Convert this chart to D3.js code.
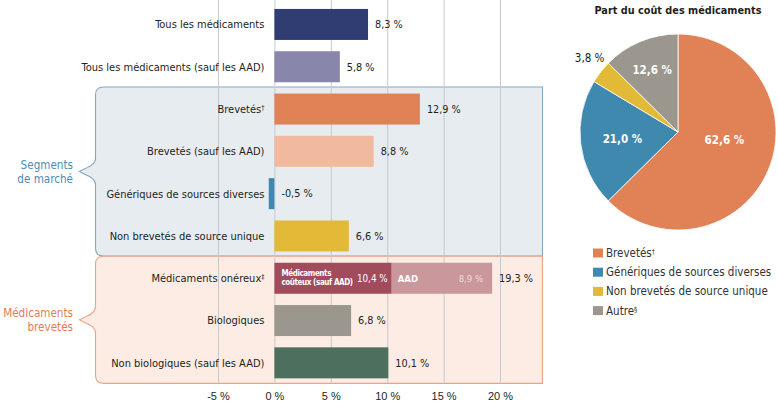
<!DOCTYPE html>
<html><head><meta charset="utf-8">
<script src="https://cdn.jsdelivr.net/npm/d3@7"></script>
<style>
html,body{margin:0;padding:0;background:#fff;}
svg{display:block;font-family:'DejaVu Sans Condensed','DejaVu Sans',sans-serif;font-stretch:condensed;}
</style></head><body>
<svg id="c" width="778" height="407"></svg>
<script>
// ---- data ----
const categories = ["Tous les médicaments","Tous les médicaments (sauf les AAD)","Brevetés","Brevetés (sauf les AAD)","Génériques de sources diverses","Non brevetés de source unique","Médicaments onéreux","Biologiques","Non biologiques (sauf les AAD)"];
const catSup = ["","","†","","","","‡","",""];
const values = [8.3, 5.8, 12.9, 8.8, -0.5, 6.6, 19.3, 6.8, 10.1];
const barColors = ["#2f3d72","#8886aa","#e08256","#f1b99d","#3f88ae","#e3b938","#a24b5d","#9c978e","#4d6f5e"];
const costlyParts = ["Médicaments coûteux (sauf AAD)","AAD"];
const costlyValues = [10.4, 8.9];
const costlyColors = ["#a24b5d","#c9979c"];
const xTicks = [-5, 0, 5, 10, 15, 20];
const groups = [{label:["Segments","de marché"], from:2, to:5, fill:"#e7ecf1", stroke:"#86a9c3", text:"#4b8db4"},
                {label:["Médicaments","brevetés"], from:6, to:8, fill:"#fcece4", stroke:"#eaa586", text:"#e07d55"}];
const pieTitle = "Part du coût des médicaments";
const pieLabels = ["Brevetés","Génériques de sources diverses","Non brevetés de source unique","Autre"];
const pieSup = ["†","","","§"];
const pieValues = [62.6, 21.0, 3.8, 12.6];
const pieColors = ["#e08256","#3f88ae","#e3b938","#9c978e"];

// ---- helpers ----
const loc = d3.formatLocale({decimal:",", thousands:" ", grouping:[3], currency:["","€"], minus:"-"});
const f1 = loc.format(".1f");
const pct = v => f1(v) + " %";
const svg = d3.select("#c");
const ink = "#231f20";

const x = d3.scaleLinear().domain([-5, 20]).range([218, 500]);
const y = d3.scaleBand().domain(categories).range([3.3, 384]).paddingInner(0.267).paddingOuter(0.1335);
const bw = y.bandwidth();

// ---- group boxes ----
const boxL = 95.5, boxR = 542.5, rr = 8;
groups.forEach((g, gi) => {
  const y0 = y(categories[g.from]) - 6.5;
  const y1 = y(categories[g.to]) + bw + (gi === 0 ? 4.5 : 5);
  const ym = (y0 + y1) / 2;
  const p = d3.path();
  p.moveTo(boxL + rr, y0);
  p.lineTo(boxR, y0);
  p.lineTo(boxR, y1);
  p.lineTo(boxL + rr, y1);
  p.quadraticCurveTo(boxL, y1, boxL, y1 - rr);
  p.lineTo(boxL, ym + 13);
  p.bezierCurveTo(boxL, ym + 6, boxL - 9, ym + 4, boxL - 16, ym);
  p.bezierCurveTo(boxL - 9, ym - 4, boxL, ym - 6, boxL, ym - 13);
  p.lineTo(boxL, y0 + rr);
  p.quadraticCurveTo(boxL, y0, boxL + rr, y0);
  p.closePath();
  svg.append("path").attr("d", p.toString()).attr("fill", g.fill).attr("stroke", g.stroke).attr("stroke-width", 1.1);
  const t = svg.append("text").attr("x", 73).attr("y", ym - 3).attr("text-anchor", "end")
    .attr("fill", g.text).style("font-size", "11.6px");
  g.label.forEach((l, i) => t.append("tspan").attr("x", 73).attr("dy", i === 0 ? 0 : 14.5).text(l));
});

// ---- gridlines ----
svg.append("g").selectAll("line").data(xTicks).join("line")
  .attr("x1", d => x(d) + 0.5).attr("x2", d => x(d) + 0.5)
  .attr("y1", 0).attr("y2", 383).attr("stroke", "#c6cace").attr("stroke-width", 1);

// ---- axis ----
const ax = svg.append("g").attr("transform", "translate(0,389)")
  .call(d3.axisBottom(x).tickValues(xTicks).tickSize(0).tickFormat(d => d + " %"));
ax.select(".domain").remove();
ax.selectAll("text").attr("fill", ink).style("font-size", "11px").style("font-family", "inherit").attr("dy", "0.71em");

// ---- category labels ----
const lab = svg.append("g").selectAll("text").data(categories).join("text")
  .attr("x", x(0) - 10).attr("y", d => y(d) + bw / 2).attr("dy", "0.35em")
  .attr("text-anchor", "end").attr("fill", ink).style("font-size", "11px");
lab.append("tspan").text(d => d);
lab.append("tspan").text((d, i) => catSup[i]).attr("dy", "-0.4em").style("font-size", "7px");

// ---- bars ----
const simple = categories.map((c, i) => ({c, v: values[i], col: barColors[i], i})).filter(d => d.i !== 6);
svg.append("g").selectAll("rect").data(simple).join("rect")
  .attr("x", d => x(Math.min(0, d.v))).attr("width", d => Math.abs(x(d.v) - x(0)))
  .attr("y", d => y(d.c)).attr("height", bw).attr("fill", d => d.col);

// stacked costly bar
const stackCat = categories[6];
let acc = 0;
const segs = costlyValues.map((v, i) => { const s = {v, x0: acc, x1: acc + v, name: costlyParts[i], col: costlyColors[i]}; acc += v; return s; });
const sy = y(stackCat);
svg.append("g").selectAll("rect").data(segs).join("rect")
  .attr("x", d => x(d.x0)).attr("width", d => x(d.x1) - x(d.x0))
  .attr("y", sy).attr("height", bw).attr("fill", d => d.col);
// inner labels
const t1 = svg.append("text").attr("x", x(segs[0].x0) + 7).attr("y", sy + bw / 2 - 2.5)
  .attr("fill", "#fff").style("font-size", "8px").style("font-weight", "bold").style("letter-spacing", "-0.4px");
t1.append("tspan").attr("x", x(segs[0].x0) + 7).text("Médicaments");
t1.append("tspan").attr("x", x(segs[0].x0) + 7).attr("dy", 9.2).text("coûteux (sauf AAD)");
svg.append("text").attr("x", x(segs[0].x1) - 4).attr("y", sy + bw / 2).attr("dy", "0.35em")
  .attr("text-anchor", "end").attr("fill", "#fff").style("font-size", "9.8px").text(pct(segs[0].v));
svg.append("text").attr("x", x(segs[1].x0) + 6).attr("y", sy + bw / 2).attr("dy", "0.35em")
  .attr("fill", "#fff").style("font-size", "9.5px").style("font-weight", "bold").text(segs[1].name);
svg.append("text").attr("x", x(segs[1].x1) - 9).attr("y", sy + bw / 2).attr("dy", "0.35em")
  .attr("text-anchor", "end").attr("fill", "#f1dcdc").style("font-size", "9.5px").text(pct(segs[1].v));

// value labels
svg.append("g").selectAll("text").data(categories.map((c, i) => ({c, v: values[i]}))).join("text")
  .attr("x", d => x(Math.max(0, d.v)) + 7).attr("y", d => y(d.c) + bw / 2).attr("dy", "0.35em")
  .attr("fill", ink).style("font-size", "10.8px").text(d => pct(d.v));

// ---- pie ----
const cx = 678, cy = 132, R = 98;
const pie = d3.pie().sort(null).value(d => d)(pieValues);
const arc = d3.arc().innerRadius(0).outerRadius(R);
const pg = svg.append("g").attr("transform", `translate(${cx},${cy})`);
pg.selectAll("path").data(pie).join("path").attr("d", arc)
  .attr("fill", (d, i) => pieColors[i]).attr("stroke", "#fff").attr("stroke-width", 0.8);
const labR = [47, 56, 115, 67], labDa = [-13, 0, 2, 0];
pg.selectAll("text").data(pie).join("text")
  .attr("transform", (d, i) => {
    const a = (d.startAngle + d.endAngle) / 2 + labDa[i] * Math.PI / 180;
    return `translate(${Math.sin(a) * labR[i]},${-Math.cos(a) * labR[i]})`;
  })
  .attr("text-anchor", "middle").attr("dy", "0.35em")
  .attr("fill", (d, i) => i === 2 ? ink : "#fff")
  .style("font-size", "11.5px").style("font-weight", (d, i) => i === 2 ? "normal" : "bold")
  .text(d => pct(d.data));
svg.append("text").attr("x", cx).attr("y", 14).attr("text-anchor", "middle")
  .attr("fill", ink).style("font-size", "10.8px").style("font-weight", "bold").text(pieTitle);

// legend
const lg = svg.append("g").selectAll("g").data(pieLabels).join("g")
  .attr("transform", (d, i) => `translate(593,${248.5 + i * 19.2})`);
lg.append("rect").attr("width", 10).attr("height", 9).attr("fill", (d, i) => pieColors[i]);
const lt = lg.append("text").attr("x", 13).attr("y", 4.5).attr("dy", "0.35em").attr("fill", "#333").style("font-size", "11.5px");
lt.append("tspan").text(d => d);
lt.append("tspan").text((d, i) => pieSup[i]).attr("dy", "-0.4em").style("font-size", "7px");
</script></body></html>
